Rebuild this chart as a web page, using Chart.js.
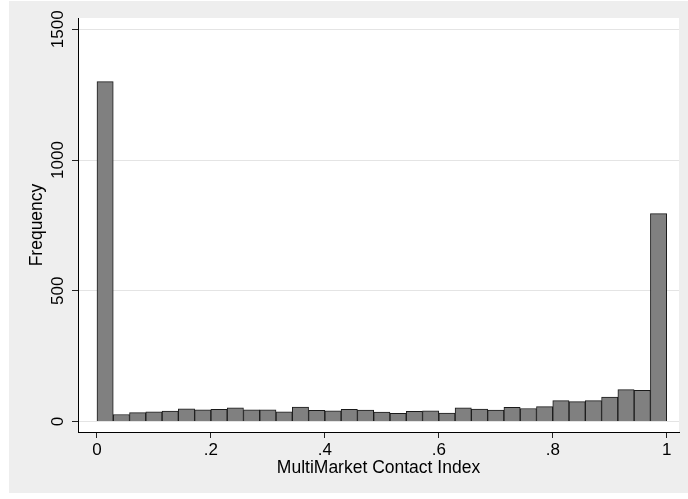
<!DOCTYPE html>
<html>
<head>
<meta charset="utf-8">
<script src="https://cdn.jsdelivr.net/npm/chart.js@4/dist/chart.umd.min.js"></script>
<style>
  html, body { margin: 0; padding: 0; background: #ffffff; }
  canvas { display: block; }
</style>
</head>
<body>
<canvas id="histChart" width="688" height="499"></canvas>
<script>
// histogram of the MultiMarket Contact Index, 35 bins on [0, 1]
const binCount = 35;
const frequencies = [
    1300, 27, 34, 37, 40, 49, 45, 47, 52, 45,
    45, 37, 55, 43, 41, 47, 44, 36, 31, 39,
    41, 32, 52, 48, 44, 54, 50, 57, 80, 76,
    80, 94, 122, 119, 795
];
const xTickValues = [0, 0.2, 0.4, 0.6, 0.8, 1];
const xTickLabels = ['0', '.2', '.4', '.6', '.8', '1'];
const yTickValues = [0, 500, 1000, 1500];
const yTickLabels = ['0', '500', '1000', '1500'];

const binWidth = 1 / binCount;
const points = frequencies.map((f, i) => ({ x: (i + 0.5) * binWidth, y: f }));

const fontFamily = '"Liberation Sans", Arial, Helvetica, sans-serif';

// grey graph region and white plot region, like Stata's default scheme
const backgroundPlugin = {
    id: 'stataBackground',
    beforeDraw(chart) {
        const ctx = chart.ctx;
        const area = chart.chartArea;
        ctx.save();
        ctx.fillStyle = '#ffffff';
        ctx.fillRect(0, 0, chart.width, chart.height);
        ctx.fillStyle = '#eeeeee';
        ctx.fillRect(9, 1, chart.width - 9, 492);
        ctx.fillStyle = '#ffffff';
        ctx.fillRect(area.left, area.top, area.right - area.left, area.bottom - area.top);
        ctx.restore();
    }
};

// y tick labels are vertical in the reference
const yLabelPlugin = {
    id: 'verticalYLabels',
    afterDraw(chart) {
        const scale = chart.scales.y;
        const ctx = chart.ctx;
        ctx.save();
        ctx.fillStyle = '#000000';
        ctx.font = '17px ' + fontFamily;
        ctx.textAlign = 'center';
        ctx.textBaseline = 'alphabetic';
        scale.ticks.forEach((t, i) => {
            const py = scale.getPixelForValue(t.value);
            ctx.save();
            ctx.translate(62.5, py);
            ctx.rotate(-Math.PI / 2);
            ctx.fillText(yTickLabels[i], 0, 0);
            ctx.restore();
        });
        ctx.restore();
    }
};

new Chart(document.getElementById('histChart'), {
    type: 'bar',
    data: {
        datasets: [{
            label: 'Frequency',
            data: points,
            backgroundColor: '#808080',
            borderColor: '#1a1a1a',
            borderWidth: 1,
            barPercentage: 1,
            categoryPercentage: 1
        }]
    },
    options: {
        responsive: false,
        animation: false,
        devicePixelRatio: 1,
        layout: { padding: { left: 0, top: 18, right: 9, bottom: 0 } },
        plugins: {
            legend: { display: false },
            tooltip: { enabled: false }
        },
        scales: {
            x: {
                type: 'linear',
                min: -0.0333,
                max: 1.0216,
                offset: false,
                afterBuildTicks: scale => {
                    scale.ticks = xTickValues.map(v => ({ value: v }));
                },
                afterFit: scale => { scale.height = 67; },
                ticks: {
                    color: '#000000',
                    font: { family: fontFamily, size: 17 },
                    padding: 2,
                    maxRotation: 0,
                    autoSkip: false,
                    callback: (value, index) => xTickLabels[index]
                },
                grid: {
                    offset: false,
                    drawOnChartArea: false,
                    drawTicks: true,
                    tickLength: 6,
                    tickColor: '#222222'
                },
                border: { display: true, color: '#000000', width: 1 },
                title: {
                    display: true,
                    text: 'MultiMarket Contact Index',
                    color: '#000000',
                    font: { family: fontFamily, size: 17.5 },
                    padding: { top: 0, bottom: 20 }
                }
            },
            y: {
                min: -40,
                max: 1543,
                afterBuildTicks: scale => {
                    scale.ticks = yTickValues.map(v => ({ value: v }));
                },
                afterFit: scale => { scale.width = 78; },
                ticks: { display: false },
                grid: {
                    color: '#e4e4e4',
                    drawTicks: true,
                    tickLength: 6,
                    tickColor: '#222222'
                },
                border: { display: true, color: '#000000', width: 1 },
                title: {
                    display: true,
                    text: 'Frequency',
                    color: '#000000',
                    font: { family: fontFamily, size: 17.5 },
                    padding: { top: 27, bottom: 0 }
                }
            }
        }
    },
    plugins: [backgroundPlugin, yLabelPlugin]
});
</script>
</body>
</html>
